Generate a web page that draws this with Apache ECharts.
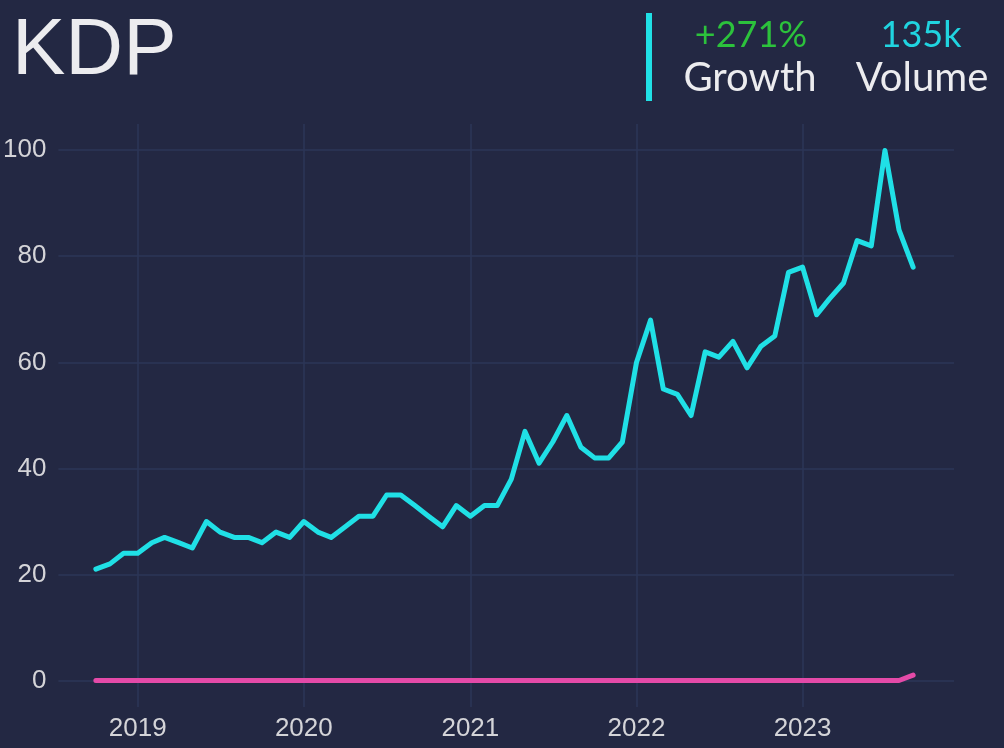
<!DOCTYPE html>
<html>
<head>
    <meta charset="utf-8">
    <title>KDP</title>
    <style>
        html, body {
            margin: 0;
            padding: 0;
            background: #232843;
        }

        #main {
            width: 1004px;
            height: 748px;
        }
    </style>
</head>
<body>
<div id="main"></div>
<script src="https://cdn.jsdelivr.net/npm/echarts@6/dist/echarts.min.js"></script>
<script>
    // 月份：2018-10 起，共 60 个月
    var startYear = 2018;
    var startMonth = 9; // 0 起算，9 = 十月
    var monthCount = 60;

    // 搜索量指数（青色线）
    var kdpValues = [21, 22, 24, 24, 26, 27, 26, 25, 30, 28, 27, 27,
        26, 28, 27, 30, 28, 27, 29, 31, 31, 35, 35, 33,
        31, 29, 33, 31, 33, 33, 38, 47, 41, 45, 50, 44,
        42, 42, 45, 60, 68, 55, 54, 50, 62, 61, 64, 59,
        63, 65, 77, 78, 69, 72, 75, 83, 82, 100, 85, 78];

    // 粉色线
    var pinkValues = [0, 0, 0, 0, 0, 0, 0, 0, 0, 0, 0, 0,
        0, 0, 0, 0, 0, 0, 0, 0, 0, 0, 0, 0,
        0, 0, 0, 0, 0, 0, 0, 0, 0, 0, 0, 0,
        0, 0, 0, 0, 0, 0, 0, 0, 0, 0, 0, 0,
        0, 0, 0, 0, 0, 0, 0, 0, 0, 0, 0, 1];

    var yTicks = [0, 20, 40, 60, 80, 100];

    var growthText = '+271%';
    var volumeText = '135k';

    var months = [];
    for (var i = 0; i < monthCount; i++) {
        months.push(Date.UTC(startYear, startMonth + i, 1));
    }

    function pair(values) {
        var out = [];
        for (var i = 0; i < values.length; i++) {
            out.push([months[i], values[i]]);
        }
        return out;
    }

    // ggplot 式 5% 扩展
    var span = months[months.length - 1] - months[0];
    var xMin = months[0] - span * 0.05;
    var xMax = months[months.length - 1] + span * 0.05;

    var gridColor = '#2d3657';
    var labelColor = '#d4d4d8';

    var myChart = echarts.init(document.getElementById('main'));
    var option = {
        useUTC: true,
        backgroundColor: '#232843',
        animation: false,
        grid: [
            {left: 55, right: 50, top: 124, bottom: 41},
            {left: 55, right: 50, top: 150, bottom: 67}
        ],
        xAxis: [
            {
                type: 'time',
                gridIndex: 0,
                min: xMin,
                max: xMax,
                minInterval: 365 * 24 * 3600 * 1000,
                axisLine: {show: false},
                axisTick: {show: false},
                splitLine: {
                    show: true,
                    showMinLine: false,
                    showMaxLine: false,
                    lineStyle: {color: gridColor, width: 1.5}
                },
                axisLabel: {
                    formatter: '{yyyy}',
                    color: labelColor,
                    fontFamily: 'Liberation Sans',
                    fontSize: 26,
                    margin: 9
                }
            },
            {
                type: 'time',
                gridIndex: 1,
                min: xMin,
                max: xMax,
                show: false
            }
        ],
        yAxis: [
            {
                type: 'value',
                gridIndex: 0,
                min: -5,
                max: 105,
                show: false,
                splitLine: {show: false}
            },
            {
                type: 'value',
                gridIndex: 1,
                min: yTicks[0],
                max: yTicks[yTicks.length - 1],
                interval: 20,
                axisLine: {show: false},
                axisTick: {show: false},
                splitLine: {show: true, lineStyle: {color: gridColor, width: 1.5}},
                axisLabel: {
                    color: labelColor,
                    fontFamily: 'Liberation Sans',
                    fontSize: 26,
                    margin: 12
                }
            }
        ],
        series: [
            {
                name: 'KDP',
                type: 'line',
                xAxisIndex: 0,
                yAxisIndex: 0,
                data: pair(kdpValues),
                symbol: 'none',
                lineStyle: {color: '#20e0e6', width: 5, join: 'round', cap: 'round'}
            },
            {
                name: 'other',
                type: 'line',
                xAxisIndex: 0,
                yAxisIndex: 0,
                data: pair(pinkValues),
                symbol: 'none',
                lineStyle: {color: '#e44aa8', width: 5, join: 'round', cap: 'round'}
            }
        ],
        graphic: [
            {
                type: 'text',
                left: 12,
                top: 12,
                style: {
                    text: 'KDP',
                    fill: '#ececef',
                    font: '80px "Liberation Sans"'
                }
            },
            {
                type: 'rect',
                shape: {x: 646, y: 13, width: 6, height: 88},
                style: {fill: '#20e0e6'}
            },
            {
                type: 'text',
                style: {
                    x: 751, y: 35, text: growthText, align: 'center', verticalAlign: 'middle',
                    fill: '#2cc23c', font: '36px Lato'
                }
            },
            {
                type: 'text',
                style: {
                    x: 750, y: 78, text: 'Growth', align: 'center', verticalAlign: 'middle',
                    fill: '#ececef', font: '40px Lato', letterSpacing: 2
                }
            },
            {
                type: 'text',
                style: {
                    x: 921, y: 35, text: volumeText, align: 'center', verticalAlign: 'middle',
                    fill: '#20d4e0', font: '36px Lato'
                }
            },
            {
                type: 'text',
                style: {
                    x: 922, y: 78, text: 'Volume', align: 'center', verticalAlign: 'middle',
                    fill: '#ececef', font: '40px Lato', letterSpacing: 3
                }
            }
        ]
    };
    myChart.setOption(option);
</script>
</body>
</html>
